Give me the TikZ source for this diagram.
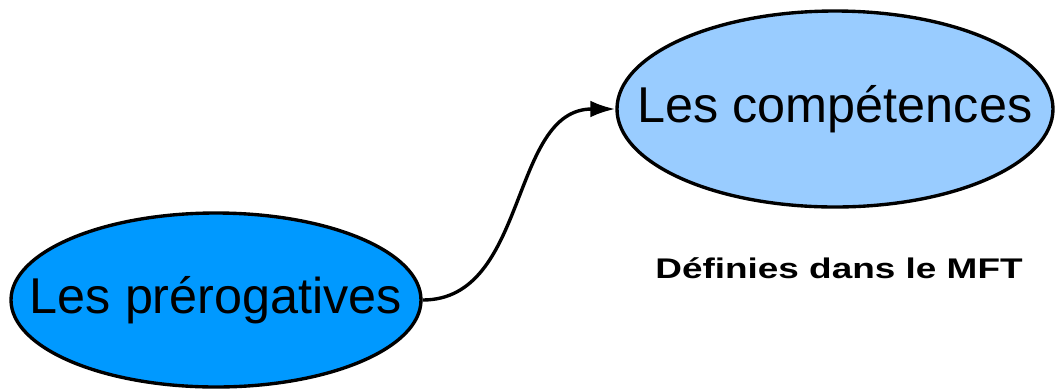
\documentclass[tikz,border=0pt]{standalone}
\usepackage{fontspec}
\setmainfont{Liberation Sans}
\usetikzlibrary{arrows.meta,shapes.geometric,positioning}
\definecolor{deepblue}{HTML}{0099FF}
\definecolor{paleblue}{HTML}{99CCFF}
\tikzset{
  basic/.style  = {draw, ellipse, line width=2.4pt, inner sep=0pt},
  bubble1/.style = {basic, fill=deepblue, minimum width=410*0.025cm, minimum height=174*0.025cm},
  bubble2/.style = {basic, fill=paleblue, minimum width=436*0.025cm, minimum height=196*0.025cm},
  bigtext/.style = {font=\fontsize{35.8}{40}\selectfont, inner sep=0pt},
  note/.style   = {font=\fontsize{20.2}{24}\selectfont\bfseries, inner sep=0pt, anchor=base}
}

\begin{document}
\begin{tikzpicture}[x=0.025cm, y=-0.025cm, >={Latex[length=0.625cm, width=0.42cm]}]
\useasboundingbox (0,0) rectangle (1055,391);

% the two ellipses
\node[bubble1, label={[bigtext]center:Les prérogatives}] (prerog) at (216,300) {};
\node[bubble2, label={[bigtext]center:Les compétences}] (compet) at (835,109) {};

% text under the right ellipse
\node[note] (mft) at (839,278) {\scalebox{1.3}[1]{Définies dans le MFT}};

% link between them
\draw[->, line width=2.4pt] (prerog.east) to[out=0, in=180] (compet.west);
\end{tikzpicture}
\end{document}
